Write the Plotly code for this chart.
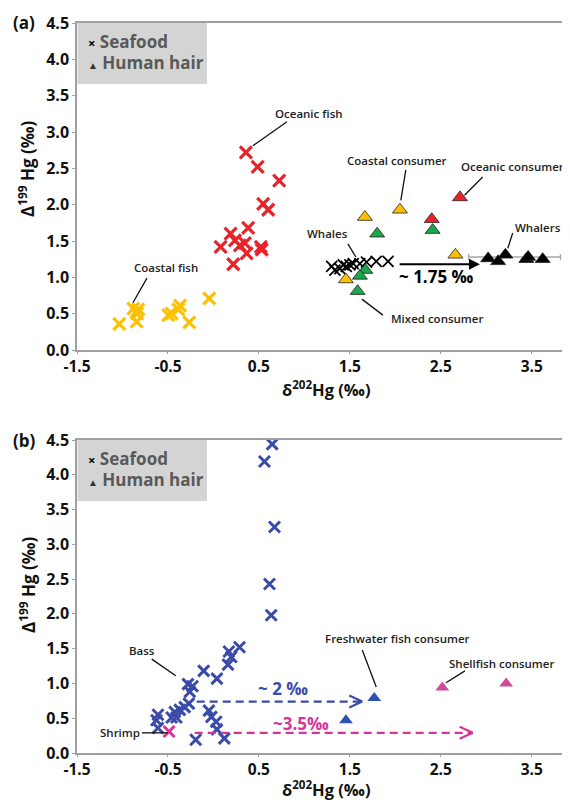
import plotly.graph_objects as go

# the page body adds an 8px offset; the figure is sized so it fills the 570x803 window
OX, OY = 8, 8
W, H = 570 - OX, 803 - OY

# ---------------- Panel (a) data ----------------
coastal_fish_x = [-1.035, -0.88, -0.826, -0.84, -0.844, -0.497, -0.46, -0.368, -0.387, -0.266, -0.046]
coastal_fish_y = [0.36, 0.57, 0.56, 0.50, 0.39, 0.48, 0.50, 0.61, 0.56, 0.38, 0.71]

oceanic_fish_x = [0.357, 0.486, 0.723, 0.547, 0.602, 0.382, 0.189, 0.079, 0.236, 0.291, 0.346, 0.365, 0.522, 0.530, 0.218]
oceanic_fish_y = [2.72, 2.52, 2.33, 2.01, 1.93, 1.68, 1.60, 1.42, 1.51, 1.44, 1.47, 1.33, 1.42, 1.38, 1.18]

whales_x = [1.30, 1.335, 1.39, 1.427, 1.46, 1.50, 1.537, 1.61, 1.683, 1.79, 1.92]
whales_y = [1.15, 1.10, 1.12, 1.17, 1.15, 1.17, 1.19, 1.19, 1.21, 1.22, 1.22]

coastal_cons_x = [1.665, 2.05, 2.66, 1.456]
coastal_cons_y = [1.83, 1.93, 1.31, 0.97]

mixed_cons_x = [1.80, 2.41, 1.67, 1.61, 1.585]
mixed_cons_y = [1.60, 1.65, 1.10, 1.02, 0.81]

oceanic_cons_x = [2.71, 2.40]
oceanic_cons_y = [2.10, 1.80]

whalers_x = [3.02, 3.13, 3.21, 3.44, 3.46, 3.62]
whalers_y = [1.26, 1.22, 1.31, 1.25, 1.28, 1.25]

whalers_mean_x = [3.31]
whalers_mean_y = [1.28]
whalers_sd_x = [0.505]

arrow_a_start = [2.03, 1.18]
arrow_a_end = [2.93, 1.18]
arrow_a_label = "~ 1.75 ‰"

# ---------------- Panel (b) data ----------------
fw_fish_x = [0.561, 0.646, 0.671, 0.616, 0.635,
             0.287, 0.17, 0.196, 0.16, -0.107, 0.038, -0.28, -0.23, -0.26,
             -0.27, -0.316, -0.37, -0.425, -0.407, -0.46, -0.61, -0.626, -0.61,
             -0.05, -0.023, 0.03, 0.038, 0.12, -0.195]
fw_fish_y = [4.19, 4.44, 3.25, 2.43, 1.98,
             1.52, 1.46, 1.38, 1.27, 1.18, 1.07, 0.99, 0.96, 0.88,
             0.71, 0.66, 0.62, 0.59, 0.51, 0.51, 0.55, 0.47, 0.36,
             0.61, 0.52, 0.45, 0.34, 0.21, 0.19]

shrimp_x = [-0.488]
shrimp_y = [0.31]

fw_cons_x = [1.768, 1.457]
fw_cons_y = [0.79, 0.47]

shell_cons_x = [2.516, 3.218]
shell_cons_y = [0.94, 1.00]

arrow_blue = [-0.184, 1.636, 0.74]
arrow_pink = [-0.206, 2.85, 0.29]
label_blue = "~ 2 ‰"
label_pink = "~3.5‰"

x_ticks = [-1.5, -0.5, 0.5, 1.5, 2.5, 3.5]
y_ticks = [0.0, 0.5, 1.0, 1.5, 2.0, 2.5, 3.0, 3.5, 4.0, 4.5]

# ---------------- colours ----------------
YEL = "#FFC000"
RED = "#E8232A"
GRN = "#1BA64B"
BLK = "#000000"
BLU = "#3B4BA8"
BLU_T = "#2F52B2"
PNK = "#D8339A"
PNK_T = "#D04A9C"

FONT = "Open Sans"

fig = go.Figure()


def cross(x, y, color, xa, ya, size=12, lw=3.2):
    fig.add_trace(go.Scatter(x=x, y=y, mode="markers", xaxis=xa, yaxis=ya,
                             marker=dict(symbol="x-thin", size=size,
                                         line=dict(width=lw, color=color)),
                             showlegend=False, hoverinfo="x+y"))


def tri(x, y, color, xa, ya, size=13, outline=True):
    fig.add_trace(go.Scatter(x=x, y=y, mode="markers", xaxis=xa, yaxis=ya,
                             marker=dict(symbol="triangle-up", size=size, color=color,
                                         line=dict(width=0.8 if outline else 0, color="#222")),
                             showlegend=False, hoverinfo="x+y"))


# panel a
cross(coastal_fish_x, coastal_fish_y, YEL, "x", "y")
cross(oceanic_fish_x, oceanic_fish_y, RED, "x", "y")
cross(whales_x, whales_y, BLK, "x", "y", size=11, lw=1.8)
fig.add_trace(go.Scatter(x=whalers_mean_x, y=whalers_mean_y, mode="markers", xaxis="x", yaxis="y",
                         marker=dict(size=1, opacity=0),
                         error_x=dict(type="data", array=whalers_sd_x, color="#A8A8A8",
                                      thickness=1.3, width=3),
                         showlegend=False, hoverinfo="skip"))
tri(coastal_cons_x, coastal_cons_y, YEL, "x", "y")
tri(mixed_cons_x, mixed_cons_y, GRN, "x", "y")
tri(oceanic_cons_x, oceanic_cons_y, RED, "x", "y")
tri(whalers_x, whalers_y, BLK, "x", "y")

# panel b
cross(fw_fish_x, fw_fish_y, BLU, "x2", "y2", size=11, lw=3)
cross(shrimp_x, shrimp_y, PNK, "x2", "y2", size=11, lw=3)
tri(fw_cons_x, fw_cons_y, BLU_T, "x2", "y2", size=12, outline=False)
tri(shell_cons_x, shell_cons_y, PNK_T, "x2", "y2", size=12, outline=False)


def px(xp):
    return (xp - OX) / W


def py(yp):
    return 1 - (yp - OY) / H


axis_common = dict(range=[-1.5, 3.92], tickvals=x_ticks, ticktext=[f"{v:.1f}" for v in x_ticks],
                   showline=True, linecolor="#A0A0A0", linewidth=1.5, mirror=True, automargin=False,
                   ticks="outside", ticklen=2, tickcolor="#A0A0A0", showgrid=False, zeroline=False,
                   tickfont=dict(family=FONT, size=15.5, color="#111", weight="bold"))
yaxis_common = dict(range=[0, 4.5], tickvals=y_ticks, ticktext=[f"{v:.1f}" for v in y_ticks],
                    showline=True, linecolor="#A0A0A0", linewidth=1.5, automargin=False,
                    ticks="outside", ticklen=3, tickcolor="#A0A0A0", showgrid=False, zeroline=False,
                    tickfont=dict(family=FONT, size=16, color="#111", weight="bold"))

fig.update_layout(
    width=W, height=H, margin=dict(l=0, r=0, t=0, b=0, autoexpand=False),
    paper_bgcolor="white", plot_bgcolor="white",
    xaxis=dict(domain=[px(77), 1.0], anchor="y", **axis_common),
    yaxis=dict(domain=[py(350), py(23)], anchor="x", **yaxis_common),
    xaxis2=dict(domain=[px(77), 1.0], anchor="y2", **axis_common),
    yaxis2=dict(domain=[py(753), py(440)], anchor="x2", **yaxis_common),
)

shapes = []
annotations = []


def ann(**kw):
    kw.setdefault("xanchor", "center")
    kw.setdefault("yanchor", "middle")
    kw.setdefault("showarrow", False)
    annotations.append(kw)


# legend boxes
for top, bot in [(23, 84), (440, 501)]:
    shapes.append(dict(type="rect", xref="paper", yref="paper", x0=px(77.5), x1=px(207),
                       y0=py(bot), y1=py(top), fillcolor="#D4D4D4", line=dict(width=0), layer="below"))
for y1, y2 in [(42, 63), (458, 479)]:
    ann(xref="paper", yref="paper", x=px(86), y=py(y1), xanchor="left",
        text="<span style='color:#000;font-size:13px'>×</span> Seafood",
        font=dict(family=FONT, size=17, color="#595959", weight="bold"))
    ann(xref="paper", yref="paper", x=px(86), y=py(y2), xanchor="left",
        text="<span style='color:#333;font-size:10px'>▲</span> Human hair",
        font=dict(family=FONT, size=17, color="#595959", weight="bold"))

# panel labels and axis titles
title_font = dict(family=FONT, size=17, color="#111", weight="bold")
for lab, yy in [("(a)", 23), ("(b)", 440)]:
    ann(xref="paper", yref="paper", x=px(24), y=py(yy), text=lab, font=title_font)
for yc in [169, 585]:
    ann(xref="paper", yref="paper", x=px(27), y=py(yc), textangle=-90,
        text="Δ<sup>199</sup> Hg (‰)", font=title_font)
for yc in [389, 789]:
    ann(xref="paper", yref="paper", x=px(326), y=py(yc), text="δ<sup>202</sup>Hg (‰)",
        font=dict(family=FONT, size=16.5, color="#111", weight="bold"))

# labels with leader lines (data coordinates)
lab_font = dict(family=FONT, size=11.5, color="#222", weight=600)
labels_a = [
    ("Oceanic fish", 1.05, 3.26, [0.434, 2.81, 0.808, 3.14]),
    ("Coastal fish", -0.522, 1.14, [-0.731, 0.99, -0.885, 0.65]),
    ("Coastal consumer", 2.016, 2.61, [2.115, 2.48, 2.06, 2.06]),
    ("Oceanic consumer", 3.29, 2.52, [2.96, 2.38, 2.76, 2.13]),
    ("Whales", 1.258, 1.61, [1.478, 1.46, 1.566, 1.28]),
    ("Whalers", 3.566, 1.68, [3.29, 1.61, 3.236, 1.40]),
    ("Mixed consumer", 2.456, 0.43, [1.632, 0.70, 1.863, 0.48]),
]
labels_b = [
    ("Bass", -0.787, 1.47, [-0.678, 1.35, -0.414, 1.11]),
    ("Shrimp", -1.03, 0.30, [-0.787, 0.29, -0.502, 0.29]),
    ("Freshwater fish consumer", 2.02, 1.65, [1.636, 1.48, 1.79, 0.95]),
    ("Shellfish consumer", 3.17, 1.28, [2.765, 1.18, 2.557, 1.01]),
]
for labs, xr, yr in [(labels_a, "x", "y"), (labels_b, "x2", "y2")]:
    for txt, tx, ty, ln in labs:
        ann(xref=xr, yref=yr, x=tx, y=ty, text=txt, font=lab_font)
        shapes.append(dict(type="line", xref=xr, yref=yr, x0=ln[0], y0=ln[1], x1=ln[2], y1=ln[3],
                           line=dict(color="#111", width=1.3)))

# arrow in panel a
annotations.append(dict(xref="x", yref="y", axref="x", ayref="y",
                        x=arrow_a_end[0], y=arrow_a_end[1], ax=arrow_a_start[0], ay=arrow_a_start[1],
                        text="", showarrow=True, arrowhead=2, arrowsize=1.1, arrowwidth=2, arrowcolor="#000"))
ann(xref="x", yref="y", x=2.45, y=1.01, text=arrow_a_label,
    font=dict(family=FONT, size=17, color="#000", weight="bold"))

# dashed arrows in panel b
for (x0, x1, yv), col, txt, tx, ty in [(arrow_blue, BLU, label_blue, 0.76, 0.93),
                                       (arrow_pink, PNK, label_pink, 0.967, 0.43)]:
    shapes.append(dict(type="line", xref="x2", yref="y2", x0=x0, x1=x1, y0=yv, y1=yv,
                       line=dict(color=col, width=2.2, dash="8px,5px")))
    for dy in (6, -6):
        shapes.append(dict(type="line", xref="x2", yref="y2", xsizemode="pixel", ysizemode="pixel",
                           xanchor=x1, yanchor=yv, x0=-13, y0=dy, x1=0, y1=0,
                           line=dict(color=col, width=2.2)))
    ann(xref="x2", yref="y2", x=tx, y=ty, text=txt,
        font=dict(family=FONT, size=17, color=col, weight="bold"))

fig.update_layout(shapes=shapes, annotations=annotations)

fig.write_html("out.html")
